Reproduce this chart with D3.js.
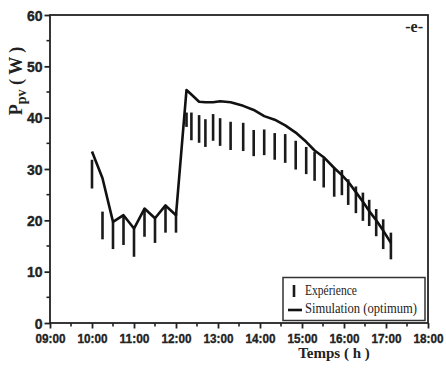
<!DOCTYPE html>
<html>
<head>
<meta charset="utf-8">
<script src="https://cdn.jsdelivr.net/npm/d3@7"></script>
<style>
  html, body { margin: 0; padding: 0; background: #fff; }
  svg { display: block; }
</style>
</head>
<body>
<svg id="chart" width="446" height="372"></svg>
<script>
// ---- data ----
const times = ["10:00","10:15","10:30","10:45","11:00","11:15","11:30","11:45","12:00",
  "12:15","12:22","12:33","12:42","12:53","13:03","13:18","13:36","13:51","14:06","14:21",
  "14:36","14:51","15:06","15:18","15:31","15:46","15:57","16:06","16:17","16:27","16:36",
  "16:46","16:56","17:07"];
const expLow  = [26.2,16.3,14.4,15.2,12.9,16.8,15.6,17.6,17.6,
  38.2,35.6,35.1,34.3,35.5,34.5,33.7,33.5,32.5,32.7,31.8,
  31.2,29.9,29.0,27.7,26.4,24.6,24.9,23.0,21.4,19.9,18.9,
  16.9,14.4,12.4];
const expHigh = [31.8,21.7,19.7,20.7,18.4,22.3,20.4,23.0,21.4,
  41.0,41.0,40.5,39.7,40.7,39.9,39.2,39.0,37.6,37.7,37.0,
  36.8,35.5,34.3,33.3,32.1,30.3,29.8,28.0,26.6,25.4,24.0,
  22.2,20.2,17.6];
const simValues = [33.4,28.2,19.7,21.0,18.4,22.3,20.4,22.9,21.0,
  45.4,44.5,43.1,43.0,43.0,43.2,43.0,42.3,41.5,40.3,39.6,
  38.5,37.1,35.3,33.6,32.3,30.2,28.8,27.5,25.5,23.6,21.8,
  20.0,18.0,15.6];
const xTickLabels = ["09:00","10:00","11:00","12:00","13:00","14:00","15:00","16:00","17:00","18:00"];
const yTickValues = [0,10,20,30,40,50,60];
const legendLabels = ["Expérience","Simulation (optimum)"];

// ---- helpers ----
const toHours = s => { const [h, m] = s.split(":").map(Number); return h + m / 60; };
const hours = times.map(toHours);

const svg = d3.select("#chart");
const L = 50, R = 428, T = 15, B = 323;
const x = d3.scaleLinear().domain([9, 18]).range([L, R]);
const y = d3.scaleLinear().domain([0, 60]).range([B, T]);

const tickFont = "'Liberation Sans',Arial,sans-serif";
const serif = "'Liberation Serif','Times New Roman',serif";

// ---- minor ticks ----
const g = svg.append("g");
const xMinor = d3.range(9.5, 18, 1);
const yMinor = d3.range(5, 60, 10);
g.selectAll(".xminor").data(xMinor).join("line")
  .attr("x1", d => x(d)).attr("x2", d => x(d))
  .attr("y1", B).attr("y2", B + 3.5)
  .attr("stroke", "#222").attr("stroke-width", 1.6);
g.selectAll(".yminor").data(yMinor).join("line")
  .attr("x1", L).attr("x2", L - 3.5)
  .attr("y1", d => y(d)).attr("y2", d => y(d))
  .attr("stroke", "#222").attr("stroke-width", 1.6);

// ---- axes ----
const xAxis = d3.axisBottom(x)
  .tickValues(xTickLabels.map(toHours))
  .tickFormat((d, i) => xTickLabels[i])
  .tickSize(5.5).tickPadding(5);
const gx = svg.append("g").attr("transform", `translate(0,${B})`).call(xAxis);
const yAxis = d3.axisLeft(y).tickValues(yTickValues).tickSize(5.5).tickPadding(2);
const gy = svg.append("g").attr("transform", `translate(${L},0)`).call(yAxis);
[gx, gy].forEach(a => {
  a.select(".domain").remove();
  a.selectAll(".tick line").attr("stroke", "#222").attr("stroke-width", 1.8);
  a.selectAll(".tick text").attr("fill", "#222")
    .attr("stroke", "#222").attr("stroke-width", 0.35)
    .style("font-family", tickFont).style("font-weight", "bold").style("font-size", "14px");
});
gx.selectAll(".tick text").style("font-size", "13px")
  .attr("textLength", 30).attr("lengthAdjust", "spacingAndGlyphs");
gy.selectAll(".tick text").attr("dy", "0.36em");

// ---- frame ----
svg.append("rect").attr("x", L).attr("y", T).attr("width", R - L).attr("height", B - T)
  .attr("fill", "none").attr("stroke", "#222").attr("stroke-width", 1.8);

// ---- experimental bars ----
svg.append("g").selectAll("line").data(hours).join("line")
  .attr("x1", d => x(d)).attr("x2", d => x(d))
  .attr("y1", (d, i) => y(expLow[i])).attr("y2", (d, i) => y(expHigh[i]))
  .attr("stroke", "#1a1a1a").attr("stroke-width", 2.6);

// ---- simulation line ----
const line = d3.line().x(d => x(d[0])).y(d => y(d[1]));
svg.append("path").datum(hours.map((h, i) => [h, simValues[i]]))
  .attr("d", line).attr("fill", "none")
  .attr("stroke", "#111").attr("stroke-width", 2.6).attr("stroke-linejoin", "round");

// ---- axis titles ----
const yt = svg.append("text")
  .attr("transform", "translate(22,81) rotate(-90)")
  .attr("text-anchor", "middle")
  .style("font-family", serif).style("font-weight", "bold").style("font-size", "18px")
  .attr("fill", "#222");
yt.append("tspan").text("P");
yt.append("tspan").text("pv").attr("dy", "4").style("font-size", "14px");
yt.append("tspan").text(" ( W )").attr("dy", "-4");

svg.append("text").attr("x", 334).attr("y", 358).attr("text-anchor", "middle")
  .style("font-family", serif).style("font-weight", "bold").style("font-size", "15px")
  .attr("fill", "#222").text("Temps ( h )");

svg.append("text").attr("x", 423).attr("y", 32).attr("text-anchor", "end")
  .style("font-family", serif).style("font-weight", "bold").style("font-size", "16px")
  .attr("fill", "#222").text("-e-");

// ---- legend ----
const lg = svg.append("g");
lg.append("rect").attr("x", 283).attr("y", 277.5).attr("width", 142).attr("height", 43)
  .attr("fill", "#fff").attr("stroke", "#333").attr("stroke-width", 1.5);
lg.append("line").attr("x1", 294).attr("x2", 294).attr("y1", 285).attr("y2", 297)
  .attr("stroke", "#1a1a1a").attr("stroke-width", 2.6);
lg.append("line").attr("x1", 288).attr("x2", 302).attr("y1", 310).attr("y2", 310)
  .attr("stroke", "#111").attr("stroke-width", 2.6);
lg.selectAll("text").data(legendLabels).join("text")
  .attr("x", 305).attr("y", (d, i) => 295 + i * 18)
  .style("font-family", serif).style("font-size", "14px").attr("fill", "#222")
  .attr("textLength", (d, i) => i === 1 ? 112 : 52)
  .attr("lengthAdjust", "spacingAndGlyphs")
  .text(d => d);
</script>
</body>
</html>
